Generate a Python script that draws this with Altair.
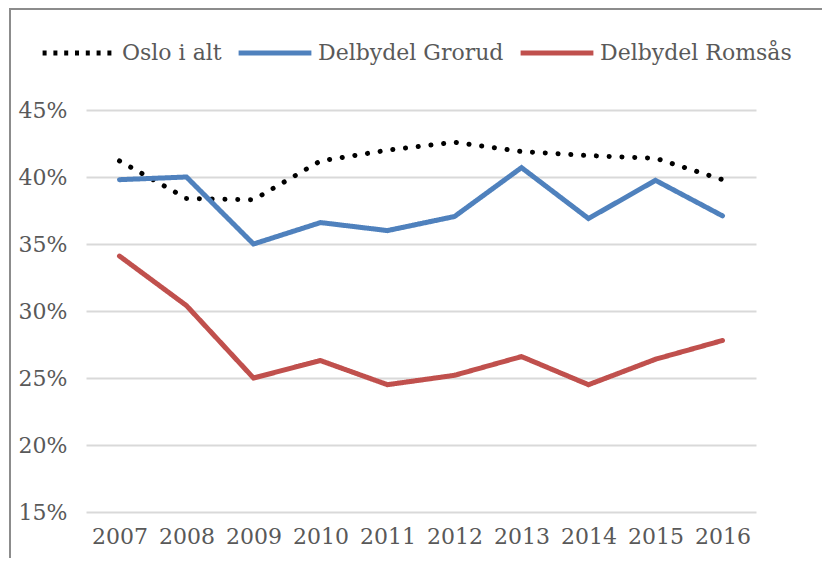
import altair as alt
import pandas as pd

years = [2007, 2008, 2009, 2010, 2011, 2012, 2013, 2014, 2015, 2016]
series = ["Oslo i alt", "Delbydel Grorud", "Delbydel Romsås"]
oslo = [41.2, 38.4, 38.3, 41.2, 42.0, 42.6, 41.9, 41.6, 41.4, 39.8]
grorud = [39.8, 40.0, 35.0, 36.6, 36.0, 37.05, 40.7, 36.9, 39.75, 37.1]
romsas = [34.1, 30.4, 25.0, 26.3, 24.5, 25.2, 26.6, 24.5, 26.4, 27.8]
colors = ["#000000", "#4f81bd", "#c0504d"]
y_ticks = [0.15, 0.20, 0.25, 0.30, 0.35, 0.40, 0.45]

rows = []
for name, vals in zip(series, [oslo, grorud, romsas]):
    for yr, v in zip(years, vals):
        rows.append({"year": str(yr), "value": v / 100.0, "series": name})
df = pd.DataFrame(rows)

FONT = "DejaVu Serif"
GREY = "#595959"

x_enc = alt.X("year:O", title=None,
              axis=alt.Axis(labelAngle=0, domain=False, ticks=False, labelPadding=14,
                            labelFont=FONT, labelFontSize=22, labelColor=GREY, grid=False))
y_enc = alt.Y("value:Q", title=None,
              scale=alt.Scale(domain=[0.15, 0.45], nice=False, zero=False),
              axis=alt.Axis(values=y_ticks, format=".0%", domain=False, ticks=False,
                            labelPadding=19, labelFont=FONT, labelFontSize=22,
                            labelColor=GREY, grid=True, gridColor="#d9d9d9", gridWidth=1.8))

lines = alt.Chart(df).mark_line(strokeWidth=5, strokeCap="round", strokeJoin="miter").encode(
    x=x_enc,
    y=y_enc,
    color=alt.Color("series:N", sort=series,
                    scale=alt.Scale(domain=series, range=colors), legend=None),
    strokeDash=alt.StrokeDash("series:N", sort=series,
                              scale=alt.Scale(domain=series,
                                              range=[[0.1, 12.7], [1, 0], [1, 0]]),
                              legend=None),
    order=alt.Order("year:O"),
)

leg_kw = dict(title=None, orient="none", direction="horizontal",
              legendX=-46, legendY=-96, symbolType="stroke", symbolSize=5300,
              symbolStrokeWidth=5, labelFont=FONT, labelFontSize=22,
              labelColor=GREY, labelOffset=4, columnPadding=6, labelLimit=0)

legend_layer = alt.Chart(df).transform_filter("false").mark_line(strokeWidth=5).encode(
    x=x_enc,
    y=y_enc,
    color=alt.Color("series:N", sort=series,
                    scale=alt.Scale(domain=series, range=colors),
                    legend=alt.Legend(**leg_kw)),
    strokeDash=alt.StrokeDash("series:N", sort=series,
                              scale=alt.Scale(domain=series,
                                              range=[[4, 6.8], [1, 0], [1, 0]]),
                              legend=alt.Legend(**leg_kw)),
)

frame_left = alt.Chart(df).mark_rule(color="#8c8c8c", strokeWidth=2).encode(
    x=alt.value(-76), y=alt.value(-102), y2=alt.value(460)
)
frame_top = alt.Chart(df).mark_rule(color="#8c8c8c", strokeWidth=2).encode(
    x=alt.value(-76), x2=alt.value(760), y=alt.value(-101)
)

chart = alt.layer(frame_left, frame_top, legend_layer, lines).resolve_scale(
    color="independent", strokeDash="independent"
).properties(
    width=670, height=402,
    autosize=alt.AutoSizeParams(type="none"),
    padding={"left": 78, "top": 102, "right": 66, "bottom": 46},
).configure(background="white", view=alt.ViewConfig(stroke=None))

chart.save("out.html", embed_options={"renderer": "svg", "actions": False})
